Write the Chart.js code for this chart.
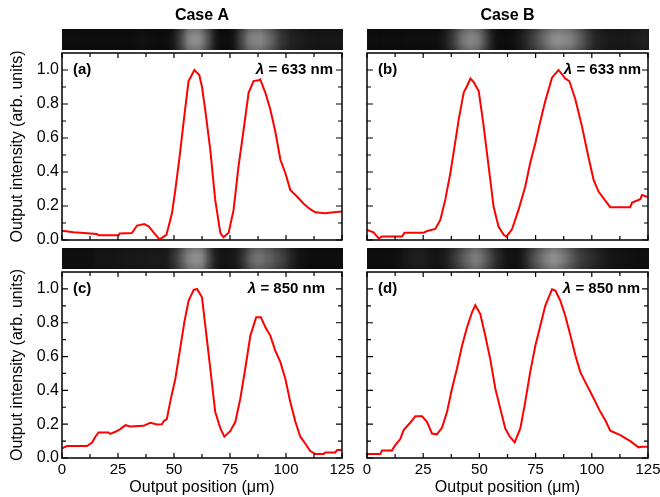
<!DOCTYPE html>
<html>
<head>
<meta charset="utf-8">
<script src="https://cdn.jsdelivr.net/npm/chart.js@4.4.0/dist/chart.umd.min.js"></script>
<style>
    html, body { margin: 0; padding: 0; background: #fff; }
    #wrap { position: relative; width: 660px; height: 497px; overflow: hidden; }
    .panel { position: absolute; }
</style>
</head>
<body>
<div id="wrap">
    <div class="panel" style="left:0;top:0;width:355px;height:252px"><canvas id="chartA"></canvas></div>
    <div class="panel" style="left:360px;top:0;width:300px;height:252px"><canvas id="chartB"></canvas></div>
    <div class="panel" style="left:0;top:245px;width:355px;height:252px"><canvas id="chartC"></canvas></div>
    <div class="panel" style="left:360px;top:245px;width:300px;height:252px"><canvas id="chartD"></canvas></div>
</div>
<script>
// Output profiles (position in um, normalised intensity)
const posA = [0, 5.2, 15.6, 16.4, 25.3, 25.7, 31.2, 33.5, 36.7, 38.7, 41.6, 43.6, 46.6, 49.1, 50.6, 52.5, 54.6, 56.5, 58.7, 59.1, 61.3, 62.5, 64, 66.2, 68.4, 70.7, 72.1, 74.4, 76.6, 78.8, 81.1, 83.3, 85.5, 87.8, 88.5, 90.8, 93, 95.2, 97.5, 99.7, 101.9, 104.9, 107.9, 110.8, 113.1, 117.5, 121.3, 125];
const intA = [0.055, 0.045, 0.035, 0.028, 0.028, 0.038, 0.041, 0.085, 0.094, 0.08, 0.033, 0.004, 0.03, 0.157, 0.295, 0.49, 0.728, 0.935, 0.99, 1.0, 0.97, 0.9, 0.76, 0.53, 0.236, 0.04, 0.016, 0.043, 0.177, 0.433, 0.65, 0.866, 0.935, 0.94, 0.945, 0.866, 0.768, 0.64, 0.472, 0.394, 0.295, 0.256, 0.213, 0.181, 0.163, 0.157, 0.163, 0.167];

const posB = [0, 2.9, 5.2, 6.7, 15.6, 16.7, 25.2, 26.7, 30.4, 32.6, 34.8, 37.1, 39.3, 40.8, 43, 44.5, 46, 47.4, 49.7, 51.9, 54.1, 56.3, 58.5, 60.8, 62, 64.5, 67.4, 70.4, 72.6, 74.9, 77.1, 79.3, 82.3, 85.2, 88.2, 90, 92.7, 95.6, 98.6, 100.8, 103, 106, 108.2, 117.1, 117.9, 121.6, 122.3, 125];
const intB = [0.059, 0.045, 0.01, 0.02, 0.02, 0.043, 0.043, 0.053, 0.065, 0.118, 0.236, 0.394, 0.58, 0.71, 0.866, 0.906, 0.95, 0.93, 0.876, 0.67, 0.433, 0.197, 0.079, 0.03, 0.02, 0.063, 0.177, 0.315, 0.453, 0.571, 0.699, 0.817, 0.955, 1.0, 0.95, 0.935, 0.827, 0.67, 0.482, 0.354, 0.285, 0.232, 0.193, 0.193, 0.22, 0.24, 0.265, 0.252];

const posC = [0, 2.2, 11.2, 13.4, 14.9, 16.3, 20.8, 21.5, 23.8, 26, 28.3, 30.5, 36.4, 39.4, 42.4, 44.6, 45.4, 46.8, 48.3, 50.6, 52.5, 54.6, 56.5, 58.8, 60.3, 62.5, 64, 66.2, 68.4, 70.7, 72.5, 75.1, 77.4, 79.6, 81.8, 84.1, 86.7, 88.8, 90.8, 93, 95.2, 97.5, 99.7, 101.9, 104.2, 106.4, 108.6, 110.8, 113.1, 116.8, 117.5, 122, 122.8, 125];
const intC = [0.057, 0.071, 0.071, 0.092, 0.126, 0.151, 0.151, 0.143, 0.155, 0.171, 0.194, 0.186, 0.19, 0.208, 0.198, 0.2, 0.218, 0.23, 0.332, 0.469, 0.626, 0.802, 0.93, 0.994, 1.0, 0.95, 0.78, 0.528, 0.273, 0.175, 0.126, 0.159, 0.214, 0.351, 0.528, 0.724, 0.832, 0.832, 0.773, 0.724, 0.635, 0.567, 0.469, 0.332, 0.214, 0.126, 0.086, 0.041, 0.024, 0.024, 0.033, 0.033, 0.047, 0.047];

const posD = [0, 5.9, 6.7, 11.1, 12.6, 14.8, 16.3, 19.3, 21.5, 24.5, 26.7, 28.9, 31.1, 33.4, 35.6, 37.8, 40, 42.3, 44.5, 46.7, 48.2, 50.4, 52.6, 54.8, 57.1, 59.3, 61.5, 63.3, 65.7, 68.2, 70.4, 72.6, 74.9, 77.1, 79.3, 82.3, 83.8, 86, 88.2, 90.5, 92.7, 94.9, 97.1, 99.4, 101.6, 103.8, 106, 108.2, 112.7, 117.1, 120.8, 122.3, 125];
const intD = [0.024, 0.024, 0.045, 0.045, 0.076, 0.112, 0.165, 0.21, 0.247, 0.247, 0.214, 0.145, 0.14, 0.18, 0.273, 0.41, 0.528, 0.665, 0.773, 0.861, 0.904, 0.851, 0.724, 0.586, 0.41, 0.292, 0.175, 0.13, 0.092, 0.175, 0.332, 0.508, 0.665, 0.782, 0.9, 0.998, 0.99, 0.93, 0.841, 0.724, 0.606, 0.508, 0.449, 0.39, 0.332, 0.273, 0.224, 0.161, 0.135, 0.1, 0.063, 0.067, 0.067];

// Axis ticks
const xTickVals = [0, 25, 50, 75, 100, 125];
const xMinorVals = [12.5, 37.5, 62.5, 87.5, 112.5];
const yTickVals = [0, 0.2, 0.4, 0.6, 0.8, 1.0];
const yMinorVals = [0.1, 0.3, 0.5, 0.7, 0.9];

const xTitle = 'Output position (\u03bcm)';
const yTitle = 'Output intensity (arb. units)';
const FONT = '"Liberation Sans", Arial, Helvetica, sans-serif';

function interp(xs, ys, x) {
    if (x <= xs[0]) return ys[0];
    for (let i = 1; i < xs.length; i++) {
        if (x <= xs[i]) {
            const t = (x - xs[i - 1]) / (xs[i] - xs[i - 1]);
            return ys[i - 1] + t * (ys[i] - ys[i - 1]);
        }
    }
    return ys[ys.length - 1];
}

const panelDecor = {
    id: 'panelDecor',
    beforeDraw(chart, args, o) {
        // camera strip above the plot, shaded from the profile
        const ctx = chart.ctx, a = chart.chartArea, xs = chart.scales.x;
        const top = a.top - 24, h = 21;
        ctx.save();
        for (let px = Math.floor(a.left); px < Math.ceil(a.right) + 1; px++) {
            const v = Math.max(0, interp(o.pos, o.val, xs.getValueForPixel(px + 0.5)));
            const g = Math.round(12 + 130 * Math.pow(v, 1.4));
            ctx.fillStyle = 'rgb(' + g + ',' + g + ',' + g + ')';
            ctx.fillRect(px, top, 1, h);
        }
        const grad = ctx.createLinearGradient(0, top, 0, top + h);
        grad.addColorStop(0, 'rgba(0,0,0,0.18)');
        grad.addColorStop(0.35, 'rgba(0,0,0,0)');
        grad.addColorStop(0.65, 'rgba(0,0,0,0)');
        grad.addColorStop(1, 'rgba(0,0,0,0.18)');
        ctx.fillStyle = grad;
        ctx.fillRect(Math.floor(a.left), top, Math.ceil(a.right) - Math.floor(a.left) + 1, h);

        if (o.caseLabel) {
            ctx.fillStyle = '#000';
            ctx.font = 'bold 16px ' + FONT;
            ctx.textAlign = 'center';
            ctx.textBaseline = 'middle';
            ctx.fillText(o.caseLabel, (a.left + a.right) / 2, 16);
        }
        ctx.restore();
    },
    afterDraw(chart, args, o) {
        const ctx = chart.ctx, a = chart.chartArea;
        const xs = chart.scales.x, ys = chart.scales.y;
        ctx.save();
        ctx.strokeStyle = '#000';
        ctx.lineWidth = 1.5;
        ctx.strokeRect(a.left, a.top, a.right - a.left, a.bottom - a.top);

        ctx.lineWidth = 1.2;
        ctx.beginPath();
        const tickX = (v, len) => {
            const p = xs.getPixelForValue(v);
            ctx.moveTo(p, a.bottom); ctx.lineTo(p, a.bottom - len);
            ctx.moveTo(p, a.top); ctx.lineTo(p, a.top + len);
        };
        const tickY = (v, len) => {
            const p = ys.getPixelForValue(v);
            ctx.moveTo(a.left, p); ctx.lineTo(a.left + len, p);
            ctx.moveTo(a.right, p); ctx.lineTo(a.right - len, p);
        };
        xTickVals.forEach(v => tickX(v, 5));
        xMinorVals.forEach(v => tickX(v, 4));
        yTickVals.forEach(v => tickY(v, 6));
        yMinorVals.forEach(v => tickY(v, 4));
        ctx.stroke();

        // panel letter and wavelength
        const yLab = ys.getPixelForValue(1.0);
        ctx.fillStyle = '#000';
        ctx.textBaseline = 'middle';
        ctx.textAlign = 'left';
        ctx.font = 'bold 15px ' + FONT;
        ctx.fillText(o.letter, a.left + 11, yLab);

        const rest = ' = ' + o.wave + ' nm';
        const restW = ctx.measureText(rest).width;
        ctx.font = 'italic bold 15px ' + FONT;
        const lamW = ctx.measureText('\u03bb').width;
        const x0 = a.right - o.waveGap - restW - lamW;
        ctx.fillText('\u03bb', x0, yLab);
        ctx.font = 'bold 15px ' + FONT;
        ctx.fillText(rest, x0 + lamW, yLab);
        ctx.restore();
    }
};

function makePanel(id, p) {
    new Chart(document.getElementById(id), {
        type: 'line',
        data: {
            datasets: [{
                data: p.pos.map((x, i) => ({ x: x, y: p.val[i] })),
                borderColor: '#ff0000',
                borderWidth: 2,
                pointRadius: 0,
                tension: 0,
                fill: false
            }]
        },
        options: {
            responsive: true,
            maintainAspectRatio: false,
            animation: false,
            layout: { padding: { top: p.padTop, right: p.padRight, left: 0, bottom: 0 } },
            plugins: {
                legend: { display: false },
                tooltip: { enabled: false },
                panelDecor: {
                    pos: p.pos, val: p.val, letter: p.letter, wave: p.wave,
                    waveGap: p.waveGap, caseLabel: p.caseLabel
                }
            },
            scales: {
                x: {
                    type: 'linear', min: 0, max: 125,
                    grid: { display: false, drawTicks: false },
                    border: { display: false },
                    afterBuildTicks: s => { s.ticks = xTickVals.map(v => ({ value: v })); },
                    ticks: {
                        display: p.xLabels, padding: 3, autoSkip: false, maxRotation: 0,
                        color: '#000', font: { family: FONT, size: 15 },
                        callback: v => String(v)
                    },
                    title: {
                        display: p.xLabels, text: xTitle, color: '#000',
                        font: { family: FONT, size: 16 }, padding: { top: 0, bottom: 0 }
                    },
                    afterFit: s => { s.height = p.xHeight; s.paddingLeft = 0; s.paddingRight = 0; }
                },
                y: {
                    type: 'linear', min: 0, max: 1.1,
                    grid: { display: false, drawTicks: false },
                    border: { display: false },
                    afterBuildTicks: s => { s.ticks = yTickVals.map(v => ({ value: v })); },
                    ticks: {
                        display: p.yLabels, padding: 3, autoSkip: false,
                        color: '#000', font: { family: FONT, size: 16 },
                        callback: v => Number(v).toFixed(1)
                    },
                    title: {
                        display: p.yLabels, text: yTitle, color: '#000',
                        font: { family: FONT, size: 16 }, padding: { top: 8, bottom: 0 }
                    },
                    afterFit: s => { s.width = p.yWidth; s.paddingTop = 0; s.paddingBottom = 0; }
                }
            }
        },
        plugins: [panelDecor]
    });
}

document.addEventListener('DOMContentLoaded', () => {
    makePanel('chartA', { pos: posA, val: intA, letter: '(a)', wave: '633', waveGap: 9, caseLabel: 'Case A',
        padTop: 53, padRight: 13, yWidth: 62, xHeight: 12, xLabels: false, yLabels: true });
    makePanel('chartB', { pos: posB, val: intB, letter: '(b)', wave: '633', waveGap: 7, caseLabel: 'Case B',
        padTop: 53, padRight: 12, yWidth: 7, xHeight: 12, xLabels: false, yLabels: false });
    makePanel('chartC', { pos: posC, val: intC, letter: '(c)', wave: '850', waveGap: 17, caseLabel: null,
        padTop: 27, padRight: 13, yWidth: 62, xHeight: 39, xLabels: true, yLabels: true });
    makePanel('chartD', { pos: posD, val: intD, letter: '(d)', wave: '850', waveGap: 8, caseLabel: null,
        padTop: 27, padRight: 12, yWidth: 7, xHeight: 39, xLabels: true, yLabels: false });
});
</script>
</body>
</html>
